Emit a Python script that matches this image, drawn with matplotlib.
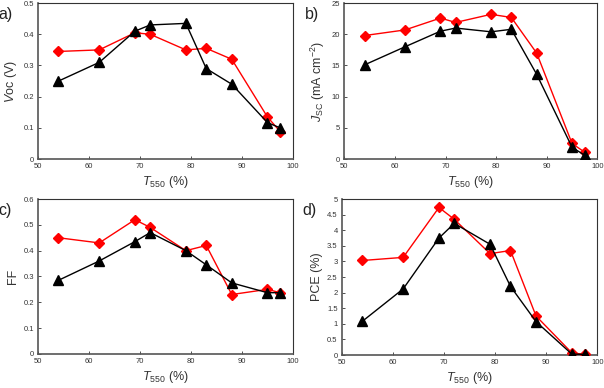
import matplotlib.pyplot as plt

plt.rcParams['font.family'] = ['Liberation Sans', 'DejaVu Sans']
plt.rcParams['mathtext.fontset'] = 'custom'
plt.rcParams['mathtext.rm'] = 'Liberation Sans'
plt.rcParams['mathtext.it'] = 'Liberation Sans:italic'

# T550 transmittance (%)
t550 = [54, 62, 69, 72, 79, 83, 88, 95, 97.5]

voc_red = [0.345, 0.35, 0.405, 0.40, 0.35, 0.355, 0.32, 0.135, 0.088]
voc_black = [0.25, 0.31, 0.41, 0.43, 0.435, 0.29, 0.24, 0.117, 0.10]

jsc_red = [19.8, 20.7, 22.6, 21.9, 23.2, 22.7, 17.0, 2.5, 1.1]
jsc_black = [15.1, 18.0, 20.5, 21.0, 20.4, 20.8, 13.6, 1.9, 0.6]

ff_red = [0.45, 0.43, 0.52, 0.49, 0.40, 0.42, 0.23, 0.25, 0.237]
ff_black = [0.285, 0.36, 0.435, 0.47, 0.40, 0.345, 0.275, 0.237, 0.237]

pce_red = [3.03, 3.13, 4.73, 4.35, 3.25, 3.35, 1.25, 0.07, 0.02]
pce_black = [1.08, 2.12, 3.75, 4.22, 3.55, 2.2, 1.07, 0.03, 0.02]

panels = [
    ('a)', voc_red, voc_black, r'$V$oc (V)', (0, 0.5), [0, 0.1, 0.2, 0.3, 0.4, 0.5], ['0', '0.1', '0.2', '0.3', '0.4', '0.5']),
    ('b)', jsc_red, jsc_black, r'$J_{\mathrm{SC}}$ (mA cm$^{-2}$)', (0, 25), [0, 5, 10, 15, 20, 25], ['0', '5', '10', '15', '20', '25']),
    ('c)', ff_red, ff_black, 'FF', (0, 0.6), [0, 0.1, 0.2, 0.3, 0.4, 0.5, 0.6], ['0', '0.1', '0.2', '0.3', '0.4', '0.5', '0.6']),
    ('d)', pce_red, pce_black, 'PCE (%)', (0, 5), [0, 0.5, 1, 1.5, 2, 2.5, 3, 3.5, 4, 4.5, 5],
     ['0', '0.5', '1', '1.5', '2', '2.5', '3', '3.5', '4', '4.5', '5']),
]

# axes rectangles in figure fractions (left, bottom, width, height)
rects = [
    (0.063, 0.590, 0.422, 0.402),
    (0.570, 0.590, 0.419, 0.402),
    (0.063, 0.088, 0.422, 0.399),
    (0.566, 0.085, 0.423, 0.402),
]

fig = plt.figure(figsize=(6.04, 3.88), dpi=100)

for (lab, red, black, ylab, ylim, yt, ytl), rect in zip(panels, rects):
    ax = fig.add_axes(rect)
    ax.plot(t550, red, color='#ff0000', lw=1.0, marker='D', ms=5.3,
            mec='#ff0000', mfc='#ff0000', zorder=3)
    ax.plot(t550, black, color='black', lw=1.0, marker='^', ms=7,
            mec='black', mfc='black', zorder=4)
    ax.set_xlim(50, 100)
    ax.set_ylim(*ylim)
    ax.set_xticks([50, 60, 70, 80, 90, 100])
    ax.set_xticklabels(['50', '60', '70', '80', '90', '100'])
    ax.set_yticks(yt)
    ax.set_yticklabels(ytl)
    ax.tick_params(direction='in', length=2, width=0.6, labelsize=5.5,
                   colors='#333333', pad=3)
    for s in ['left', 'bottom']:
        ax.spines[s].set_linewidth(1.2)
        ax.spines[s].set_color('#555555')
    for s in ['top', 'right']:
        ax.spines[s].set_linewidth(0.8)
        ax.spines[s].set_color('#333333')
    ax.set_xlabel(r'$T_{\mathrm{550}}$ (%)', fontsize=9, color='#333333', labelpad=3)
    ax.set_ylabel(ylab, fontsize=9, color='#333333', labelpad=3)
    ax.text(-0.155, 0.975, lab, transform=ax.transAxes, fontsize=11.5,
            ha='left', va='top', color='#222222')

fig.savefig('out.png', dpi=100)
